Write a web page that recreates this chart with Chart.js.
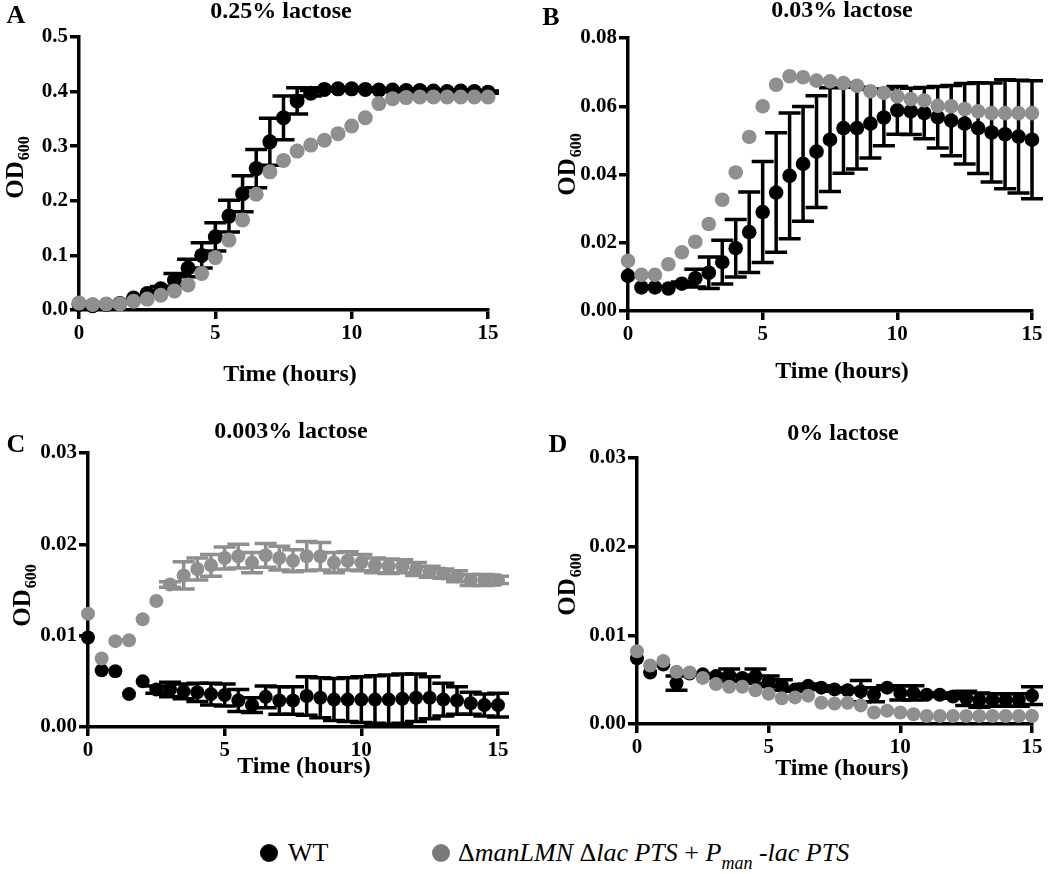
<!DOCTYPE html>
<html>
<head>
<meta charset="utf-8">
<script src="https://cdn.jsdelivr.net/npm/chart.js@4.4.0/dist/chart.umd.min.js"></script>
<style>
html, body { margin: 0; padding: 0; background: #fff; }
#wrap { position: relative; width: 1050px; height: 874px; overflow: hidden; background: #fff; }
.panel { position: absolute; }
.legend { position: absolute; font-family: "Liberation Serif", "DejaVu Serif", serif; font-size: 26px; line-height: 26px; color: #000; white-space: nowrap; }
.dot { position: absolute; width: 18px; height: 18px; border-radius: 50%; }
.legend i { font-style: italic; }
.legend sub { font-size: 18px; vertical-align: -8px; line-height: 0; font-style: italic; }
</style>
</head>
<body>
<div id="wrap">
  <div class="panel" style="left:0;top:0;"><canvas id="cA" width="525" height="400" style="width:525px;height:400px"></canvas></div>
  <div class="panel" style="left:525px;top:0;"><canvas id="cB" width="525" height="400" style="width:525px;height:400px"></canvas></div>
  <div class="panel" style="left:0;top:400px;"><canvas id="cC" width="525" height="400" style="width:525px;height:400px"></canvas></div>
  <div class="panel" style="left:525px;top:400px;"><canvas id="cD" width="525" height="400" style="width:525px;height:400px"></canvas></div>
  <div class="dot" style="left:260px;top:844px;background:#000;"></div>
  <div class="legend" id="legWT" style="left:288px;top:840px;"></div>
  <div class="dot" style="left:432px;top:844px;background:#7a7a7a;"></div>
  <div class="legend" id="legMut" style="left:458px;top:840px;"></div>
</div>
<script>
// ---------------- DATA ----------------
const hours = [0, 0.5, 1, 1.5, 2, 2.5, 3, 3.5, 4, 4.5, 5, 5.5, 6, 6.5, 7, 7.5, 8, 8.5, 9, 9.5, 10, 10.5, 11, 11.5, 12, 12.5, 13, 13.5, 14, 14.5, 15];
const xTicks = [0, 5, 10, 15];

const panelLetters = ['A', 'B', 'C', 'D'];
const panelTitles = ['0.25% lactose', '0.03% lactose', '0.003% lactose', '0% lactose'];
const xAxisTitle = 'Time (hours)';
const yAxisTitle = 'OD';
const yAxisTitleSub = '600';
const seriesNames = ['WT', 'ΔmanLMN Δlac PTS + Pman -lac PTS'];

// Panel A: 0.25% lactose
const yTicksA = [0, 0.1, 0.2, 0.3, 0.4, 0.5];
const yLabelsA = ['0.0', '0.1', '0.2', '0.3', '0.4', '0.5'];
const wtA = [0.010, 0.008, 0.010, 0.012, 0.022, 0.030, 0.039, 0.055, 0.077, 0.100, 0.134, 0.172, 0.213, 0.259, 0.308, 0.352, 0.383, 0.397, 0.404, 0.405, 0.405, 0.404, 0.403, 0.403, 0.402, 0.402, 0.401, 0.400, 0.401, 0.400, 0.399];
const wtAErr = [0, 0, 0, 0, 0, 0, 0.004, 0.012, 0.016, 0.023, 0.026, 0.029, 0.033, 0.035, 0.043, 0.040, 0.024, 0.005, 0.003, 0.002, 0.002, 0.002, 0.002, 0.002, 0.002, 0.002, 0.002, 0.002, 0.002, 0.002, 0.002];
const mutA = [0.013, 0.010, 0.011, 0.011, 0.016, 0.020, 0.027, 0.035, 0.046, 0.067, 0.096, 0.128, 0.165, 0.212, 0.253, 0.274, 0.291, 0.302, 0.311, 0.323, 0.337, 0.352, 0.378, 0.387, 0.389, 0.390, 0.390, 0.390, 0.390, 0.390, 0.390];
const mutAErr = [0, 0, 0, 0, 0, 0, 0, 0, 0, 0, 0, 0, 0, 0, 0, 0, 0, 0, 0, 0, 0, 0, 0, 0, 0, 0, 0, 0, 0, 0, 0];

// Panel B: 0.03% lactose
const yTicksB = [0, 0.02, 0.04, 0.06, 0.08];
const yLabelsB = ['0.00', '0.02', '0.04', '0.06', '0.08'];
const wtB = [0.0103, 0.0069, 0.0069, 0.0066, 0.0080, 0.0096, 0.0112, 0.0143, 0.0184, 0.0231, 0.0290, 0.0347, 0.0396, 0.0431, 0.0467, 0.0502, 0.0536, 0.0536, 0.0549, 0.0567, 0.0588, 0.0585, 0.0580, 0.0568, 0.0558, 0.0549, 0.0536, 0.0523, 0.0518, 0.0511, 0.0502];
const wtBErr = [0, 0, 0, 0, 0.0005, 0.0026, 0.0046, 0.0064, 0.0084, 0.0118, 0.0148, 0.0175, 0.0184, 0.0168, 0.0164, 0.0152, 0.0132, 0.0120, 0.0101, 0.0083, 0.0070, 0.0068, 0.0075, 0.0090, 0.0103, 0.0118, 0.0133, 0.0145, 0.0160, 0.0165, 0.0173];
const mutB = [0.0147, 0.0106, 0.0106, 0.0137, 0.0172, 0.0203, 0.0255, 0.0326, 0.0406, 0.0510, 0.0600, 0.0663, 0.0688, 0.0685, 0.0675, 0.0673, 0.0668, 0.0660, 0.0644, 0.0639, 0.0629, 0.0621, 0.0617, 0.0601, 0.0600, 0.0592, 0.0585, 0.0580, 0.0580, 0.0580, 0.0580];
const mutBErr = [0, 0, 0, 0, 0, 0, 0, 0, 0, 0, 0, 0, 0, 0, 0, 0, 0, 0, 0, 0, 0, 0, 0, 0, 0, 0, 0, 0, 0, 0, 0];

// Panel C: 0.003% lactose
const yTicksC = [0, 0.01, 0.02, 0.03];
const yLabelsC = ['0.00', '0.01', '0.02', '0.03'];
const wtC = [0.0098, 0.0062, 0.0061, 0.0036, 0.0050, 0.0041, 0.0041, 0.0039, 0.0038, 0.0036, 0.0035, 0.0029, 0.0024, 0.0033, 0.0029, 0.0029, 0.0034, 0.0032, 0.0030, 0.0030, 0.0030, 0.0030, 0.0030, 0.0031, 0.0032, 0.0032, 0.0030, 0.0029, 0.0026, 0.0024, 0.0024];
const wtCErr = [0, 0, 0, 0, 0, 0.0004, 0.0008, 0.0008, 0.0010, 0.0012, 0.0012, 0.0012, 0.0008, 0.0012, 0.0015, 0.0015, 0.0021, 0.0022, 0.0023, 0.0024, 0.0025, 0.0026, 0.0027, 0.0027, 0.0026, 0.0023, 0.0018, 0.0015, 0.0012, 0.0012, 0.0013];
const mutC = [0.0124, 0.0075, 0.0094, 0.0095, 0.0118, 0.0138, 0.0156, 0.0166, 0.0173, 0.0177, 0.0185, 0.0187, 0.0180, 0.0188, 0.0185, 0.0182, 0.0187, 0.0187, 0.0180, 0.0182, 0.0180, 0.0177, 0.0176, 0.0176, 0.0173, 0.0170, 0.0168, 0.0165, 0.0161, 0.0161, 0.0161];
const mutCErr = [0, 0, 0, 0, 0, 0, 0.0003, 0.0015, 0.0012, 0.0012, 0.0012, 0.0013, 0.0011, 0.0013, 0.0013, 0.0012, 0.0016, 0.0015, 0.0011, 0.0010, 0.0009, 0.0008, 0.0008, 0.0007, 0.0007, 0.0006, 0.0005, 0.0006, 0.0006, 0.0006, 0.0004];

// Panel D: 0% lactose
const yTicksD = [0, 0.01, 0.02, 0.03];
const yLabelsD = ['0.00', '0.01', '0.02', '0.03'];
const wtD = [0.0074, 0.0058, 0.0067, 0.0046, 0.0057, 0.0056, 0.0054, 0.0055, 0.0052, 0.0054, 0.0048, 0.0044, 0.0039, 0.0043, 0.0041, 0.0039, 0.0038, 0.0037, 0.0033, 0.0041, 0.0035, 0.0035, 0.0033, 0.0033, 0.0031, 0.0029, 0.0027, 0.0027, 0.0027, 0.0027, 0.0032];
const wtDErr = [0, 0, 0, 0.0008, 0, 0, 0.0002, 0.0007, 0.0003, 0.0008, 0.0006, 0.0006, 0.0002, 0.0002, 0.0002, 0.0002, 0.0002, 0.0012, 0.0008, 0.0002, 0.0008, 0.0008, 0.0002, 0.0002, 0.0002, 0.0008, 0.0008, 0.0007, 0.0007, 0.0007, 0.0010];
const mutD = [0.0082, 0.0066, 0.0071, 0.0059, 0.0058, 0.0052, 0.0045, 0.0042, 0.0042, 0.0038, 0.0034, 0.0029, 0.0030, 0.0032, 0.0024, 0.0023, 0.0024, 0.0021, 0.0013, 0.0015, 0.0013, 0.0011, 0.0009, 0.0009, 0.0009, 0.0009, 0.0009, 0.0009, 0.0009, 0.0009, 0.0009];
const mutDErr = [0, 0, 0, 0, 0, 0, 0, 0, 0, 0, 0, 0, 0, 0, 0, 0, 0, 0, 0, 0, 0, 0, 0, 0, 0, 0, 0, 0, 0, 0, 0];

// ---------------- STYLE ----------------
const FONT = '"Liberation Serif", "DejaVu Serif", serif';
const BLACK = '#000000';
const GRAY = '#8f8f8f';

document.getElementById('legWT').textContent = seriesNames[0];
document.getElementById('legMut').innerHTML = 'Δ<i>manLMN</i> Δ<i>lac PTS</i> + <i>P</i><sub>man</sub> <i>-lac PTS</i>';

const errorBarsPlugin = {
  id: 'errorBars',
  beforeDatasetDraw(chart, args) {
    const ds = chart.data.datasets[args.index];
    if (!ds.errors) return;
    const xs = chart.scales.x, ys = chart.scales.y, ctx = chart.ctx;
    ctx.save();
    ctx.strokeStyle = ds.errorColor;
    ctx.lineWidth = 3.5;
    const half = 11;
    ds.data.forEach((p, i) => {
      const e = ds.errors[i];
      if (!e) return;
      const x = xs.getPixelForValue(p.x);
      const yt = ys.getPixelForValue(p.y + e);
      const yb = ys.getPixelForValue(p.y - e);
      ctx.beginPath();
      ctx.moveTo(x, yt); ctx.lineTo(x, yb);
      ctx.moveTo(x - half, yt); ctx.lineTo(x + half, yt);
      ctx.moveTo(x - half, yb); ctx.lineTo(x + half, yb);
      ctx.stroke();
    });
    ctx.restore();
  }
};

const panelTextPlugin = {
  id: 'panelText',
  afterDraw(chart, args, o) {
    const ctx = chart.ctx;
    ctx.save();
    ctx.fillStyle = '#000';
    ctx.textBaseline = 'alphabetic';
    ctx.textAlign = 'center';
    ctx.font = 'bold 26px ' + FONT;
    ctx.fillText(o.letter, o.letterX, o.letterY);
    ctx.font = 'bold 24px ' + FONT;
    ctx.fillText(o.title, o.titleX, o.titleY);
    ctx.font = 'bold 24px ' + FONT;
    ctx.fillText(o.xLabel, o.xLabelX, o.xLabelY);
    ctx.translate(o.yLabelX, o.yLabelY);
    ctx.rotate(-Math.PI / 2);
    ctx.textAlign = 'left';
    ctx.font = 'bold 25px ' + FONT;
    const w1 = ctx.measureText(o.yLabel).width;
    ctx.font = 'bold 16px ' + FONT;
    const w2 = ctx.measureText(o.yLabelSub).width;
    const start = -(w1 + w2) / 2;
    ctx.font = 'bold 25px ' + FONT;
    ctx.fillText(o.yLabel, start, 8);
    ctx.font = 'bold 16px ' + FONT;
    ctx.fillText(o.yLabelSub, start + w1 + 1, 14);
    ctx.restore();
  }
};

function pts(vals) { return hours.map((h, i) => ({ x: h, y: vals[i] })); }

function makePanel(id, c) {
  const tickFont = { family: FONT, size: 21, weight: 'bold' };
  const gridOpts = { display: true, drawOnChartArea: false, drawTicks: true, tickLength: 9, lineWidth: 3.5, color: '#000' };
  return new Chart(document.getElementById(id), {
    type: 'scatter',
    data: {
      datasets: [
        { label: seriesNames[1], data: pts(c.mut), errors: c.mutErr, errorColor: GRAY,
          backgroundColor: GRAY, borderColor: GRAY, borderWidth: 0, pointRadius: c.r, pointHoverRadius: c.r, clip: false },
        { label: seriesNames[0], data: pts(c.wt), errors: c.wtErr, errorColor: BLACK,
          backgroundColor: BLACK, borderColor: BLACK, borderWidth: 0, pointRadius: c.r, pointHoverRadius: c.r, clip: false }
      ]
    },
    options: {
      responsive: false, animation: false, devicePixelRatio: 1, events: [],
      layout: { padding: c.pad },
      plugins: { legend: { display: false }, tooltip: { enabled: false }, title: { display: false }, panelText: c.text },
      scales: {
        x: {
          type: 'linear', min: 0, max: 15,
          afterFit: s => { s.height = c.xh; },
          afterBuildTicks: s => { s.ticks = xTicks.map(v => ({ value: v })); },
          ticks: { font: tickFont, color: '#000', padding: 2, maxRotation: 0, autoSkip: false, callback: v => String(v) },
          grid: gridOpts,
          border: { display: true, width: 3.5, color: '#000' }
        },
        y: {
          type: 'linear', min: 0, max: c.yTicks[c.yTicks.length - 1],
          afterFit: s => { s.width = c.yw; },
          afterBuildTicks: s => { s.ticks = c.yTicks.map(v => ({ value: v })); },
          ticks: { font: tickFont, color: '#000', padding: 2, autoSkip: false, callback: (v, i) => c.yLabels[i] },
          grid: gridOpts,
          border: { display: true, width: 3.5, color: '#000' }
        }
      }
    },
    plugins: [errorBarsPlugin, panelTextPlugin]
  });
}

function txt(i, lx, ly, tx, ty, xx, xy, yx, yy) {
  return { letter: panelLetters[i], letterX: lx, letterY: ly, title: panelTitles[i], titleX: tx, titleY: ty,
           xLabel: xAxisTitle, xLabelX: xx, xLabelY: xy, yLabel: yAxisTitle, yLabelSub: yAxisTitleSub, yLabelX: yx, yLabelY: yy };
}

makePanel('cA', { wt: wtA, wtErr: wtAErr, mut: mutA, mutErr: mutAErr, yTicks: yTicksA, yLabels: yLabelsA, r: 7.5,
  pad: { left: 0, top: 37, right: 37, bottom: 0 }, yw: 79, xh: 90,
  text: txt(0, 16, 23, 281, 18, 290, 381, 15, 168) });
makePanel('cB', { wt: wtB, wtErr: wtBErr, mut: mutB, mutErr: mutBErr, yTicks: yTicksB, yLabels: yLabelsB, r: 7.3,
  pad: { left: 0, top: 38, right: 18, bottom: 0 }, yw: 103, xh: 89,
  text: txt(1, 26, 25, 317, 17, 317, 378, 42, 165) });
makePanel('cC', { wt: wtC, wtErr: wtCErr, mut: mutC, mutErr: mutCErr, yTicks: yTicksC, yLabels: yLabelsC, r: 7,
  pad: { left: 0, top: 53, right: 27, bottom: 0 }, yw: 88, xh: 73,
  text: txt(2, 16, 52, 291, 38, 304, 373, 22, 196) });
makePanel('cD', { wt: wtD, wtErr: wtDErr, mut: mutD, mutErr: mutDErr, yTicks: yTicksD, yLabels: yLabelsD, r: 7,
  pad: { left: 0, top: 58, right: 18, bottom: 0 }, yw: 112, xh: 76,
  text: txt(3, 33, 52, 318, 40, 317, 375, 42, 185) });
</script>
</body>
</html>
